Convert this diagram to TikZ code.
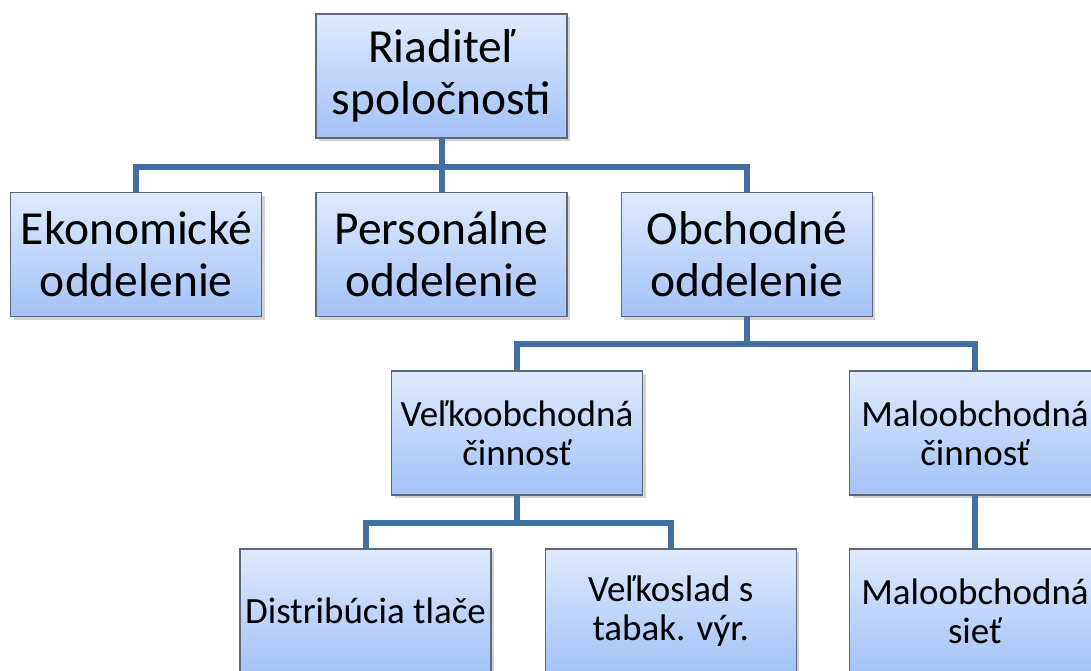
\documentclass[tikz,border=0pt]{standalone}
\usepackage{fontspec}
\setmainfont{Carlito}
\usetikzlibrary{positioning, calc, shadows}
\definecolor{boxtop}{RGB}{223, 233, 252}
\definecolor{boxbot}{RGB}{163, 194, 248}
\definecolor{boxline}{RGB}{95, 104, 116}
\definecolor{linkblue}{RGB}{66, 111, 164}

\begin{document}
\begin{tikzpicture}[x=1pt, y=1pt,
        node distance=53pt,
        unit/.style={rectangle, draw=boxline, line width=1.2pt, top color=boxtop, bottom color=boxbot, minimum width=251pt, minimum height=124pt, inner sep=0pt, align=center, drop shadow={opacity=0.35, shadow xshift=3pt, shadow yshift=-3pt}},
        bigunit/.style={unit, font=\fontsize{47.5}{52}\selectfont},
        smallunit/.style={unit, font=\fontsize{37}{39}\selectfont},
        conn/.style={draw=linkblue, line width=6pt}
    ]
    \useasboundingbox (0,0) rectangle (1091,-671);
    \clip (0,0) rectangle (1091,-671);

    \node[bigunit] (root) at (441.5,-76) {Riaditeľ\\spoločnosti};

    \node[bigunit] (pers) at (441.5,-254.5) {Personálne\\oddelenie};
    \node[bigunit, left=of pers] (eko) {Ekonomické\\oddelenie};
    \node[bigunit, right=of pers] (obch) {Obchodné\\oddelenie};

    \node[smallunit] (velk) at (517,-433) {Veľkoobchodná\\činnosť};
    \node[smallunit] (malo) at (975,-433) {Maloobchodná\\činnosť};

    \node[smallunit] (dist) at (365.5,-611) {Distribúcia tlače};
    \node[smallunit, right=of dist] (velks) {Veľkoslad s\\tabak. výr.};
    \node[smallunit] (siet) at (975,-611) {Maloobchodná\\sieť};

    \foreach \x in {eko, pers, obch}
        \draw[conn] (root.south) -- ++(0,-28) -| (\x.north);
    \foreach \x in {velk, malo}
        \draw[conn] (obch.south) -- ++(0,-27) -| (\x.north);
    \foreach \x in {dist, velks}
        \draw[conn] (velk.south) -- ++(0,-27) -| (\x.north);
    \draw[conn] (malo.south) -- (siet.north);
\end{tikzpicture}
\end{document}
